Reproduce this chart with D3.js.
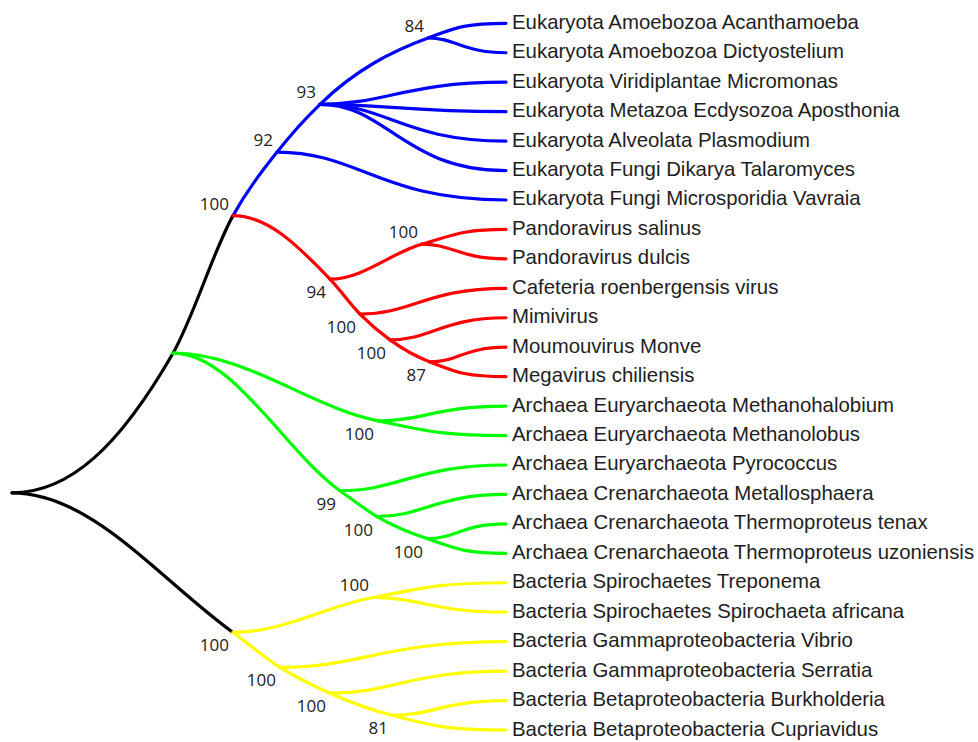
<!DOCTYPE html>
<html>
<head>
<meta charset="utf-8">
<script src="https://cdn.jsdelivr.net/npm/d3@7"></script>
<style>
  html, body { margin: 0; padding: 0; background: #ffffff; }
  svg { display: block; }
</style>
</head>
<body>
<script>
// ---------------- DATA ----------------
// Leaves (top to bottom), their parent node and clade
const leafNames = [
  "Eukaryota Amoebozoa Acanthamoeba",
  "Eukaryota Amoebozoa Dictyostelium",
  "Eukaryota Viridiplantae Micromonas",
  "Eukaryota Metazoa Ecdysozoa Aposthonia",
  "Eukaryota Alveolata Plasmodium",
  "Eukaryota Fungi Dikarya Talaromyces",
  "Eukaryota Fungi Microsporidia Vavraia",
  "Pandoravirus salinus",
  "Pandoravirus dulcis",
  "Cafeteria roenbergensis virus",
  "Mimivirus",
  "Moumouvirus Monve",
  "Megavirus chiliensis",
  "Archaea Euryarchaeota Methanohalobium",
  "Archaea Euryarchaeota Methanolobus",
  "Archaea Euryarchaeota Pyrococcus",
  "Archaea Crenarchaeota Metallosphaera",
  "Archaea Crenarchaeota Thermoproteus tenax",
  "Archaea Crenarchaeota Thermoproteus uzoniensis",
  "Bacteria Spirochaetes Treponema",
  "Bacteria Spirochaetes Spirochaeta africana",
  "Bacteria Gammaproteobacteria Vibrio",
  "Bacteria Gammaproteobacteria Serratia",
  "Bacteria Betaproteobacteria Burkholderia",
  "Bacteria Betaproteobacteria Cupriavidus"
];
const leafParent = [
  "E84","E84","E93","E93","E93","E93","E92",
  "Pand","Pand","V100a","V100b","V87","V87",
  "Ar1","Ar1","Ar2","Ar3","Ar4","Ar4",
  "Spi","Spi","Ba2","Ba3","Ba4","Ba4"
];
const leafGroup = [
  "Eukaryota","Eukaryota","Eukaryota","Eukaryota","Eukaryota","Eukaryota","Eukaryota",
  "Virus","Virus","Virus","Virus","Virus","Virus",
  "Archaea","Archaea","Archaea","Archaea","Archaea","Archaea",
  "Bacteria","Bacteria","Bacteria","Bacteria","Bacteria","Bacteria"
];
const tipDepth = 494;   // aligned leaf tips

// Internal nodes: id, parent, depth from root, bootstrap support, clade
const nodeIds     = ["root","A","B","E92","E93","E84","V94","Pand","V100a","V100b","V87","Ar1","Ar2","Ar3","Ar4","Bac","Spi","Ba2","Ba3","Ba4"];
const nodeParent  = ["",    "root","A","B","E92","E93","B","V94","V94","V100a","V100b","A","A","Ar2","Ar3","root","Bac","Bac","Ba2","Ba3"];
const nodeDepth   = [0,     161, 221, 265, 308, 416, 318, 410, 348, 378, 418, 366, 328, 365, 415, 221, 361, 268, 318, 380];
const nodeSupport = [null,  null,100, 92,  93,  84,  94,  100, 100, 100, 87,  100, 99,  100, 100, 100, 100, 100, 100, 81];
const nodeGroup   = ["stem","stem","stem","Eukaryota","Eukaryota","Eukaryota","Virus","Virus","Virus","Virus","Virus",
                     "Archaea","Archaea","Archaea","Archaea","stem","Bacteria","Bacteria","Bacteria","Bacteria"];

const groups      = ["stem","Eukaryota","Virus","Archaea","Bacteria"];
const groupColors = ["#000000","#0000ff","#ff0000","#00ff00","#ffff00"];

// ---------------- BUILD ----------------
const W = 978, H = 742;
const rows = [];
nodeIds.forEach((id, i) => rows.push({id, parent: nodeParent[i] || null, depth: nodeDepth[i], support: nodeSupport[i], group: nodeGroup[i], leafIndex: null, name: null}));
leafNames.forEach((nm, i) => rows.push({id: "leaf" + i, parent: leafParent[i], depth: tipDepth, support: null, group: leafGroup[i], leafIndex: i, name: nm}));

const root = d3.stratify().id(d => d.id).parentId(d => d.parent)(rows);

const xScale = d3.scaleLinear().domain([0, tipDepth]).range([12, 506]);
const yScale = d3.scaleLinear().domain([0, leafNames.length - 1]).range([23.3, 730]);
const color = d3.scaleOrdinal().domain(groups).range(groupColors);

root.eachAfter(n => {
  n.px = xScale(n.data.depth);
  if (!n.children) { n.py = yScale(n.data.leafIndex); }
  else {
    n.children.sort((a, b) => a.py - b.py);
    n.py = (n.children[0].py + n.children[n.children.length - 1].py) / 2;
  }
});
// continuation child: the child on the same side as the node relative to its parent
root.each(n => {
  if (n.children && n.parent) {
    n.cont = n.py < n.parent.py ? n.children[0] : n.children[n.children.length - 1];
  }
});

// Lines: each starts horizontally at a branching node and runs through continuation nodes to a leaf
const lines = [];
root.each(n => {
  if (!n.children) return;
  n.children.forEach(c => {
    if (n.cont === c) return;
    const pts = [n];
    let cur = c;
    while (cur) { pts.push(cur); if (!cur.children) break; cur = cur.cont; }
    lines.push(pts);
  });
});

function slope3(x0, y0, x1, y1, x2, y2) {
  const h0 = x1 - x0, h1 = x2 - x1;
  const s0 = (y1 - y0) / h0, s1 = (y2 - y1) / h1;
  const p = (s0 * h1 + s1 * h0) / (h0 + h1);
  return (Math.sign(s0) + Math.sign(s1)) * Math.min(Math.abs(s0), Math.abs(s1), 0.5 * Math.abs(p)) || 0;
}

const segments = [];
lines.forEach(pts => {
  const m = pts.map((p, i) => {
    if (i === 0 || i === pts.length - 1) return 0;
    return slope3(pts[i-1].px, pts[i-1].py, p.px, p.py, pts[i+1].px, pts[i+1].py);
  });
  for (let i = 0; i < pts.length - 1; i++) {
    const a = pts[i], b = pts[i+1];
    const h = b.px - a.px;
    const fa = i === 0 ? 0.36 : 1/3;
    const fb = b.children ? 1/3 : 0.55;
    const path = d3.path();
    path.moveTo(a.px, a.py);
    path.bezierCurveTo(a.px + fa * h, a.py + fa * h * m[i],
                       b.px - fb * h, b.py - fb * h * m[i+1],
                       b.px, b.py);
    segments.push({d: path.toString(), group: b.data.group});
  }
});

// ---------------- DRAW ----------------
const svg = d3.select("body").append("svg").attr("width", W).attr("height", H);
svg.append("rect").attr("width", W).attr("height", H).attr("fill", "#fff");

svg.append("g").selectAll("path").data(segments).join("path")
  .attr("d", d => d.d)
  .attr("fill", "none")
  .attr("stroke", d => color(d.group))
  .attr("stroke-width", 3.2)
  .attr("stroke-linecap", "round");

svg.append("g").selectAll("text").data(root.leaves()).join("text")
  .attr("x", d => d.px + 6)
  .attr("y", d => d.py + 5.5)
  .attr("font-family", "'Liberation Sans', Arial, sans-serif")
  .attr("font-size", 20.4)
  .attr("fill", "#1e1e1e")
  .text(d => d.data.name);

const supported = root.descendants().filter(n => n.data.support != null);
svg.append("g").selectAll("text").data(supported).join("text")
  .attr("x", d => d.px - 4)
  .attr("y", d => (d.py < d.parent.py) ? d.py - 6 : d.py + 19)
  .attr("text-anchor", "end")
  .attr("font-family", "'Open Sans', sans-serif")
  .attr("font-size", 17)
  .attr("fill", "#222")
  .text(d => d.data.support);
</script>
</body>
</html>
